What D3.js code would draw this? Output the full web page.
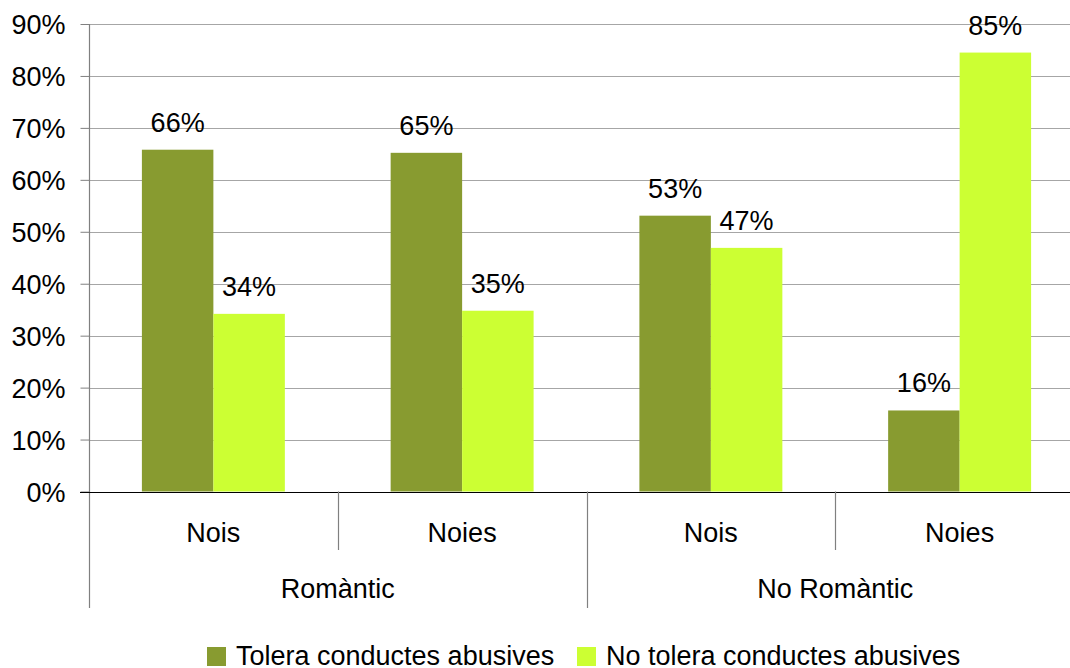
<!DOCTYPE html>
<html>
<head>
<meta charset="utf-8">
<script src="https://cdn.jsdelivr.net/npm/d3@7"></script>
<style>
  body { margin: 0; background: #fff; }
  svg { display: block; font-family: "Liberation Sans", Arial, sans-serif; }
</style>
</head>
<body>
<svg id="chart" width="1070" height="668"></svg>
<script>
// Data
const categories = ["Nois", "Noies", "Nois", "Noies"];
const groups = [
  { label: "Romàntic", from: 0, to: 1 },
  { label: "No Romàntic", from: 2, to: 3 }
];
const seriesNames = ["Tolera conductes abusives", "No tolera conductes abusives"];
const tolera = [65.8, 65.2, 53.1, 15.6];
const noTolera = [34.2, 34.8, 46.9, 84.5];
const yTicks = [0, 10, 20, 30, 40, 50, 60, 70, 80, 90];
const colors = ["#889b30", "#ccff33"];

const svg = d3.select("#chart");
const fontSize = 27;

const x0 = d3.scaleBand()
  .domain(d3.range(categories.length))
  .range([89, 1084])
  .padding(0);

const x1 = d3.scaleBand()
  .domain([0, 1])
  .range([0, x0.bandwidth()])
  .paddingInner(0)
  .paddingOuter(0.74);

const y = d3.scaleLinear()
  .domain([0, 90])
  .range([491.5, 24]);

// Gridlines
svg.append("g")
  .selectAll("line")
  .data(yTicks.filter(d => d > 0))
  .join("line")
  .attr("x1", 89)
  .attr("x2", 1070)
  .attr("y1", d => Math.round(y(d)) + 0.5)
  .attr("y2", d => Math.round(y(d)) + 0.5)
  .attr("stroke", "#a6a6a6")
  .attr("stroke-width", 1);

// Bars
const rows = categories.map((c, i) => ({ i, values: [tolera[i], noTolera[i]] }));

const barG = svg.append("g")
  .selectAll("g")
  .data(rows)
  .join("g")
  .attr("transform", d => `translate(${x0(d.i)},0)`);

barG.selectAll("rect")
  .data(d => d.values.map((v, s) => ({ v, s })))
  .join("rect")
  .attr("x", d => x1(d.s))
  .attr("width", x1.bandwidth())
  .attr("y", d => y(d.v))
  .attr("height", d => y(0) - y(d.v))
  .attr("fill", d => colors[d.s]);

// Value labels
barG.selectAll("text")
  .data(d => d.values.map((v, s) => ({ v, s })))
  .join("text")
  .attr("x", d => x1(d.s) + x1.bandwidth() / 2)
  .attr("y", d => y(d.v) - 18)
  .attr("text-anchor", "middle")
  .attr("font-size", fontSize)
  .attr("fill", "#000")
  .text(d => Math.round(d.v) + "%");

// Y axis
const yAxis = svg.append("g")
  .attr("transform", "translate(89.5,0)")
  .call(d3.axisLeft(y).tickValues(yTicks).tickSize(9).tickPadding(15).tickFormat(d => d + "%"));
yAxis.select(".domain").remove();
yAxis.selectAll(".tick line").attr("stroke", "#808080");
yAxis.selectAll(".tick text")
  .attr("font-size", fontSize)
  .attr("font-family", "Liberation Sans, Arial, sans-serif")
  .attr("fill", "#000")
  .attr("dy", "0.36em");

svg.append("line")
  .attr("x1", 89.5).attr("x2", 89.5)
  .attr("y1", y(90)).attr("y2", 608)
  .attr("stroke", "#808080")
  .attr("stroke-width", 1.2);

// X baseline
svg.append("line")
  .attr("x1", 80).attr("x2", 1070)
  .attr("y1", Math.round(y(0)) + 0.5).attr("y2", Math.round(y(0)) + 0.5)
  .attr("stroke", "#000")
  .attr("stroke-width", 1);

// Category separators
const sepG = svg.append("g");
d3.range(1, categories.length).forEach(i => {
  const isGroupEdge = groups.some(g => g.from === i);
  const sx = Math.round(x0(i)) + 0.5;
  sepG.append("line")
    .attr("x1", sx).attr("x2", sx)
    .attr("y1", y(0)).attr("y2", isGroupEdge ? 608 : 550)
    .attr("stroke", "#808080")
    .attr("stroke-width", 1.2);
});

// Category labels
svg.append("g")
  .selectAll("text")
  .data(categories)
  .join("text")
  .attr("x", (d, i) => x0(i) + x0.bandwidth() / 2)
  .attr("y", 542)
  .attr("text-anchor", "middle")
  .attr("font-size", fontSize)
  .attr("fill", "#000")
  .text(d => d);

// Group labels
svg.append("g")
  .selectAll("text")
  .data(groups)
  .join("text")
  .attr("x", d => (x0(d.from) + x0(d.to) + x0.bandwidth()) / 2)
  .attr("y", 598)
  .attr("text-anchor", "middle")
  .attr("font-size", fontSize)
  .attr("fill", "#000")
  .text(d => d.label);

// Legend
const legendX = [207, 577];
const legend = svg.append("g")
  .selectAll("g")
  .data(seriesNames)
  .join("g")
  .attr("transform", (d, i) => `translate(${legendX[i]},647)`);

legend.append("rect")
  .attr("width", 19)
  .attr("height", 19)
  .attr("fill", (d, i) => colors[i]);

legend.append("text")
  .attr("x", 29)
  .attr("y", 18)
  .attr("font-size", fontSize)
  .attr("fill", "#000")
  .text(d => d);
</script>
</body>
</html>
